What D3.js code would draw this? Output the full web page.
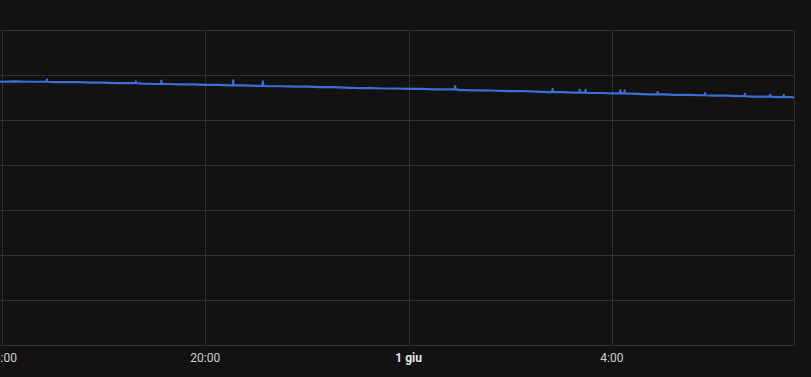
<!DOCTYPE html>
<html>
<head>
<meta charset="utf-8">
<script src="https://cdn.jsdelivr.net/npm/d3@7"></script>
<style>
  html, body { margin: 0; padding: 0; background: #121212; }
  svg { display: block; }
</style>
</head>
<body>
<div id="chart"></div>
<script>
// base readings every 15 min from 31 May 15:45
const startTime = new Date(2024, 4, 31, 15, 45)
const endTime = new Date(2024, 5, 1, 7, 35)
const values = [
  58.7, 58.5, 58.6, 58.5, 58.5, 58.4, 58.4, 58.4, 58.3, 58.3, 58.2, 58.2,
  58.1, 58.0, 58.0, 57.9, 57.9, 57.8, 57.8, 57.7, 57.7, 57.6, 57.5, 57.5,
  57.4, 57.4, 57.3, 57.3, 57.2, 57.1, 57.1, 57.0, 57.0, 56.9, 56.9, 56.8,
  56.8, 56.7, 56.6, 56.6, 56.5, 56.4, 56.4, 56.3, 56.2, 56.2, 56.1, 56.0,
  56.0, 55.9, 55.9, 55.8, 55.7, 55.7, 55.6, 55.6, 55.5, 55.4, 55.4, 55.3,
  55.2, 55.2, 55.1, 55.1, 55.0
]
// short spikes seen on the trace
const spikeTimes = ["31/05 16:53", "31/05 18:38", "31/05 19:08", "31/05 20:33", "31/05 21:08",
  "01/06 00:55", "01/06 02:50", "01/06 03:22", "01/06 03:29", "01/06 04:10", "01/06 04:15",
  "01/06 04:54", "01/06 05:50", "01/06 06:37", "01/06 07:07", "01/06 07:23"]
const spikeValues = [59.0, 58.6, 58.7, 58.8, 58.6, 57.5, 56.9, 56.7, 56.7, 56.6, 56.6,
  56.2, 56.0, 55.8, 55.6, 55.6]

const yTicks = [0, 10, 20, 30, 40, 50, 60, 70]

const width = 811, height = 377
const margin = {top: 30, right: 17, bottom: 32}

const it = d3.timeFormatLocale({
  dateTime: "%A %e %B %Y, %X", date: "%d/%m/%Y", time: "%H:%M:%S",
  periods: ["AM", "PM"],
  days: ["domenica","lunedì","martedì","mercoledì","giovedì","venerdì","sabato"],
  shortDays: ["dom","lun","mar","mer","gio","ven","sab"],
  months: ["gennaio","febbraio","marzo","aprile","maggio","giugno","luglio","agosto","settembre","ottobre","novembre","dicembre"],
  shortMonths: ["gen","feb","mar","apr","mag","giu","lug","ago","set","ott","nov","dic"]
})
const parse = d3.timeParse("%d/%m %H:%M")
const fmtDay = it.format("%-d %b"), fmtHour = it.format("%-H:%M")

const base = values.map((v, i) => ({t: i < values.length - 1 ? d3.timeMinute.offset(startTime, i * 15) : endTime, v}))
const bis = d3.bisector(d => d.t).left
const baseAt = t => {
  const j = Math.min(bis(base, t), base.length - 1)
  return base[Math.max(j - 1, 0)].v
}

// base trace with each spike as a thin up-and-down blip
let data = base.slice()
spikeTimes.forEach((s, i) => {
  const t = parse(s); t.setFullYear(2024)
  const b = baseAt(t)
  data.push({t: new Date(t.getTime() - 20000), v: b})
  data.push({t, v: spikeValues[i]})
  data.push({t: new Date(t.getTime() + 20000), v: b})
})
data.sort((a, b) => a.t - b.t)

const x = d3.scaleTime()
  .domain([new Date(2024, 4, 31, 16, 0), endTime])
  .range([2, width - margin.right])
const y = d3.scaleLinear()
  .domain([0, 70])
  .range([height - margin.bottom, margin.top])

const svg = d3.select("#chart").append("svg")
  .attr("width", width).attr("height", height)

const grid = svg.append("g").attr("stroke", "#303030").attr("stroke-width", 1).attr("shape-rendering", "crispEdges")
grid.selectAll("line.h").data(yTicks).join("line").attr("class", "h")
  .attr("x1", 0).attr("x2", x.range()[1])
  .attr("y1", d => Math.round(y(d)) + 0.5).attr("y2", d => Math.round(y(d)) + 0.5)

const xTicks = d3.timeHour.every(4).range(new Date(2024, 4, 31, 16, 0), endTime)
grid.selectAll("line.v").data(xTicks).join("line").attr("class", "v")
  .attr("x1", d => Math.round(x(d)) + 0.5).attr("x2", d => Math.round(x(d)) + 0.5)
  .attr("y1", y(70)).attr("y2", y(0))
grid.append("line")
  .attr("x1", Math.round(x.range()[1]) + 0.5).attr("x2", Math.round(x.range()[1]) + 0.5)
  .attr("y1", y(70)).attr("y2", y(0))

svg.append("g").selectAll("text").data(xTicks).join("text")
  .attr("x", d => x(d)).attr("y", 362)
  .attr("text-anchor", "middle")
  .attr("font-family", "Roboto, sans-serif")
  .attr("font-size", 12)
  .attr("font-weight", d => d.getHours() === 0 ? 700 : 400)
  .attr("fill", d => d.getHours() === 0 ? "#e6e6e6" : "#cfcfcf")
  .text(d => d.getHours() === 0 ? fmtDay(d) : fmtHour(d))

const line = d3.line().x(d => x(d.t)).y(d => y(d.v))
svg.append("path").datum(data)
  .attr("fill", "none")
  .attr("stroke", "#3d6cd4")
  .attr("stroke-width", 2.2)
  .attr("stroke-linejoin", "round")
  .attr("d", line)
</script>
</body>
</html>
